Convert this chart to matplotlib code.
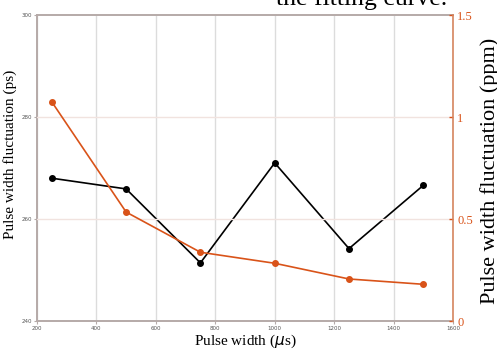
import matplotlib
matplotlib.use("Agg")
import matplotlib.pyplot as plt

# data
pulse_width = [250, 500, 750, 1000, 1250, 1500]
fluct_ps = [268.0, 265.9, 251.4, 271.0, 254.2, 266.6]
fluct_ppm = [1.074, 0.534, 0.337, 0.283, 0.206, 0.180]

x_ticks = [200, 400, 600, 800, 1000, 1200, 1400, 1600]
left_ticks = [240, 260, 280, 300]
right_ticks = [0, 0.5, 1, 1.5]
right_ticklabels = ["0", "0.5", "1", "1.5"]

orange = "#d95319"
spine_gray = "#b5aaa8"
serif = ["Liberation Serif", "DejaVu Serif"]

fig = plt.figure(figsize=(4.97, 3.49), dpi=100)
ax = fig.add_axes([0.0744, 0.0802, 0.8371, 0.8768])
ax2 = ax.twinx()

# grids
ax.set_xticks(x_ticks)
ax.grid(axis="x", color="#dcdcdc", linewidth=1.0)
ax.set_axisbelow(True)
ax2.set_yticks(right_ticks)
for v in right_ticks[1:-1]:
    ax2.axhline(v, color="#f1e3df", linewidth=1.0, zorder=0)

ax.plot(pulse_width, fluct_ps, color="black", linewidth=1.2,
        marker="o", markersize=4, zorder=3)
ax2.plot(pulse_width, fluct_ppm, color=orange, linewidth=1.2,
         marker="o", markersize=4, zorder=3)

ax.set_xlim(200, 1600)
ax.set_ylim(240, 300)
ax.set_yticks(left_ticks)
ax2.set_ylim(0, 1.5)
ax2.set_yticklabels(right_ticklabels)

ax.tick_params(axis="both", labelsize=4, colors="#555555", length=2,
               width=0.8, pad=1.5)
ax.tick_params(axis="both", color=spine_gray)
ax2.tick_params(axis="y", direction="in", colors=orange, length=3,
                width=1.0, labelsize=9, pad=3)
for lab in ax2.get_yticklabels():
    lab.set_family(serif)

for name in ["left", "bottom", "top"]:
    ax.spines[name].set_color(spine_gray)
    ax.spines[name].set_linewidth(1.4)
ax.spines["right"].set_visible(False)
for name in ["left", "bottom", "top"]:
    ax2.spines[name].set_visible(False)
ax2.spines["right"].set_color("#d6855f")
ax2.spines["right"].set_linewidth(1.2)

ax.set_xlabel(r"Pulse width ($\mu$s)", family=serif, fontsize=11, labelpad=1)
ax.set_ylabel("Pulse width fluctuation (ps)", family=serif, fontsize=11)
ax.yaxis.set_label_coords(-0.048, 0.546)
ax2.set_ylabel("Pulse width fluctuation (ppm)", family=serif, fontsize=16,
               color="black", va="center")
ax2.yaxis.set_label_coords(1.088, 0.49)

# title cut by the top edge of the canvas
fig.text(0.727, 0.985, "the fitting curve.", family=serif, fontsize=18.5,
         ha="center", va="baseline")

fig.savefig("out.png", dpi=100)
